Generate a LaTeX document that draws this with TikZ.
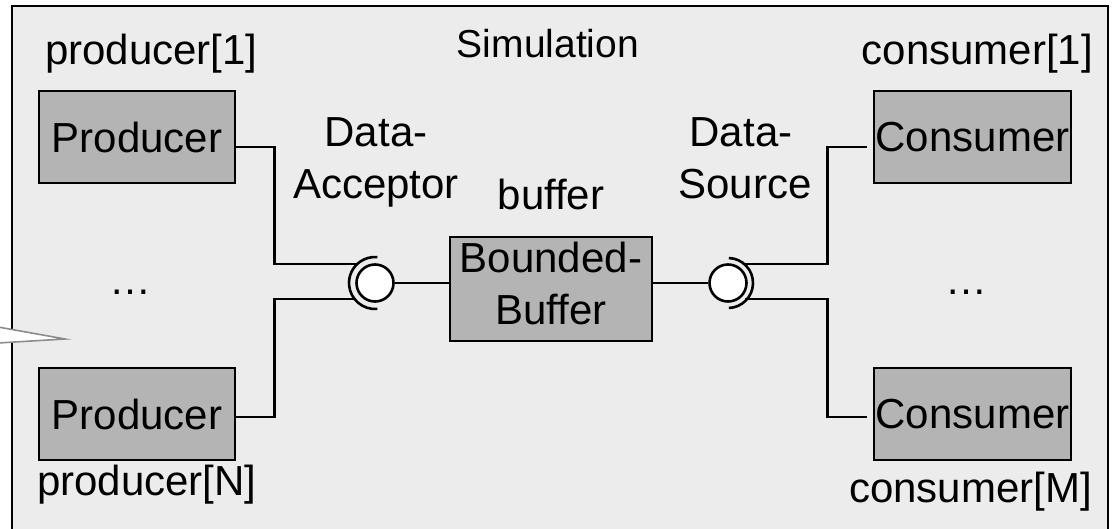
\documentclass[tikz,border=0pt]{standalone}
\usepackage{fontspec}
\setmainfont{Liberation Sans}
\definecolor{panel}{RGB}{236,236,236}
\definecolor{partfill}{RGB}{180,180,180}
\definecolor{tipgray}{RGB}{140,140,140}
\tikzset{
  lbl/.style={font=\fontsize{42}{52}\selectfont, inner sep=0pt},
  part/.style={draw, fill=partfill, line width=2.6pt, inner sep=0pt,
    font=\fontsize{42}{52}\selectfont, align=center},
  ball/.style={draw, fill=white, circle, line width=2.6pt, inner sep=0pt, minimum size=37pt},
  wire/.style={line width=2.6pt},
}
\begin{document}
\begin{tikzpicture}[x=1pt,y=-1pt]
\useasboundingbox (0,0) rectangle (1114,529);
\clip (0,0) rectangle (1114,529);

% enclosing simulation frame
\draw[fill=panel, line width=2.8pt] (12,6) rectangle (1108,560);

% parts
\node[part, minimum width=196pt, minimum height=92pt] (p1) at (137,137) {Producer};
\node[part, minimum width=196pt, minimum height=92pt] (pn) at (137,414) {Producer};
\node[part, minimum width=197pt, minimum height=92pt] (c1) at (972.5,137) {Consumer};
\node[part, minimum width=197pt, minimum height=92pt] (cm) at (972.5,414) {Consumer};
\node[part, minimum width=202pt, minimum height=104pt] (buf) at (551,289) {};
\node[lbl, anchor=base] (bufa) at (551,273) {Bounded-};
\node[lbl, anchor=base] (bufb) at (551,325) {Buffer};

% provided / required interfaces
\node[ball] (b1) at (375,283) {};
\node[ball] (b2) at (728,283) {};
\draw[wire] (b1.center) ++(85:26) arc[start angle=85, end angle=275, radius=26];
\draw[wire] (b2.center) ++(-88:25) arc[start angle=-88, end angle=88, radius=25];
\coordinate (s1a) at (356,264);
\coordinate (s1b) at (356,299);
\coordinate (s2a) at (745,264);
\coordinate (s2b) at (745,299);

% connectors
\draw[wire] (b1.east) -- (buf.west |- b1.east);
\draw[wire] (buf.east |- b2.west) -- (b2.west);
\draw[wire] ([yshift=-10pt]p1.east) -- ([xshift=38pt,yshift=-10pt]p1.east) |- (s1a);
\draw[wire] ([yshift=-3pt]pn.east) -- ([xshift=38pt,yshift=-3pt]pn.east) |- (s1b);
\draw[wire] (s2a) -| ([xshift=-45pt,yshift=-10pt]c1.west) -- ([xshift=-6pt,yshift=-10pt]c1.west);
\draw[wire] (s2b) -| ([xshift=-45pt,yshift=-3pt]cm.west) -- ([xshift=-6pt,yshift=-3pt]cm.west);

% labels
\node[lbl, font=\fontsize{39}{48}\selectfont, anchor=base] (sim) at (548,58) {Simulation};
\node[lbl, anchor=base west] (p1n) at (45,65) {producer[1]};
\node[lbl, anchor=base west] (pnn) at (37,495) {producer[N]};
\node[lbl, anchor=base east] (c1n) at (1093,65) {consumer[1]};
\node[lbl, anchor=base east] (cmn) at (1092,502) {consumer[M]};
\node[lbl, anchor=base] (pdots) at (130,295) {\ldots};
\node[lbl, anchor=base] (cdots) at (966,295) {\ldots};
\node[lbl, anchor=base] (acca) at (376,147) {Data-};
\node[lbl, anchor=base] (accb) at (376,199) {Acceptor};
\node[lbl, anchor=base] (srca) at (741,147) {Data-};
\node[lbl, anchor=base] (srcb) at (745,199) {Source};
\node[lbl, anchor=base] (bufn) at (551,210) {buffer};

% note pointer entering from the left
\fill[white] (-2,327) -- (65,339) -- (-2,343) -- cycle;
\draw[tipgray, line width=1.6pt, line join=miter] (-2,327) -- (65,339) -- (-2,343);
\end{tikzpicture}
\end{document}
